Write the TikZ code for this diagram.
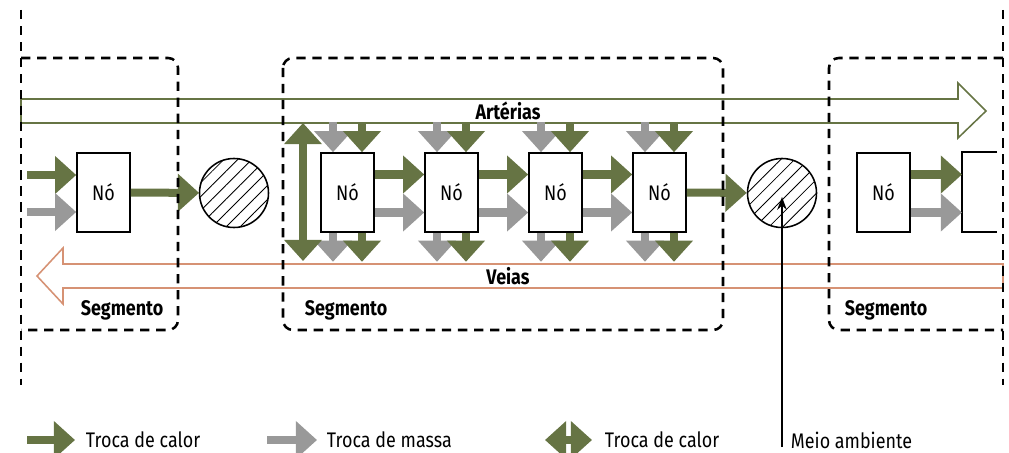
\documentclass[tikz,border=0pt]{standalone}
\usepackage{fontspec}
\setmainfont{Fira Sans}[FakeStretch=0.85]
\usepackage{tikz}
\usetikzlibrary{arrows.meta,calc,patterns.meta}
\definecolor{olive}{RGB}{102,116,68}
\definecolor{cinza}{RGB}{153,153,153}
\definecolor{salmao}{RGB}{214,146,116}

\begin{document}
\begin{tikzpicture}[x=0.025cm, y=-0.025cm, every node/.style = {font=\fontsize{15}{17}\selectfont},
    calor/.style = {olive, line width=2mm, -{Triangle[length=5.3mm,width=9.2mm]}},
    massa/.style = {cinza, line width=2mm, -{Triangle[length=5.3mm,width=9.2mm]}},
    duplo/.style = {olive, line width=2mm, {Triangle[length=5.3mm,width=9.2mm]}-{Triangle[length=5.3mm,width=9.2mm]}},
    no/.style = {draw, line width=1.1pt, fill=white, minimum width=1.325cm, minimum height=1.975cm, inner sep=0pt},
    amb/.style = {draw, circle, line width=1.1pt, minimum size=1.725cm, inner sep=0pt, pattern={Lines[angle=45,distance=7pt,line width=0.6pt]}},
    seg/.style = {draw, dash pattern=on 6.6pt off 4.8pt, line width=1.8pt, rounded corners=7pt},
    rotulo/.style = {font=\fontsize{15}{17}\selectfont\bfseries}]

    \useasboundingbox (0,0) rectangle (1009,453);

    % arterias e veias
    \draw[olive, line width=1.1pt, fill=white] (21,99) -- (958,99) -- (958,83) -- (986,111) -- (958,138) -- (958,123) -- (21,123) -- cycle;
    \node[rotulo] (art) at (508,111) {Artérias};
    \draw[salmao, line width=1.1pt, fill=white] (1003,264) -- (63,264) -- (63,248) -- (37,276) -- (63,304) -- (63,288) -- (1003,288) -- cycle;
    \node[rotulo] (vei) at (508,276) {Veias};

    % nos
    \node[no] (n1) at (103.5,192.5) {Nó};
    \node[no] (n2) at (347.5,192.5) {Nó};
    \node[no] (n3) at (451.5,192.5) {Nó};
    \node[no] (n4) at (555.5,192.5) {Nó};
    \node[no] (n5) at (659.5,192.5) {Nó};
    \node[no] (n6) at (883.5,192.5) {Nó};
    \node[amb] (c1) at (234,193) {};
    \node[amb] (c2) at (782,193) {};
    \draw[line width=1.1pt] (997,152) -- (962,152) -- (962,232) -- (997,232);
    \coordinate (corte) at (962,192.5);

    % trocas
    \coordinate (e1) at (27,175);
    \coordinate (e2) at (27,212);
    \draw[calor] (e1) -- (e1 -| n1.west);
    \draw[massa] (e2) -- (e2 -| n1.west);
    \draw[calor] (n1) -- (c1);
    \foreach \a/\b in {n2/n3,n3/n4,n4/n5,n6/corte} {
        \draw[calor] ($(\a.east)+(0,-18)$) -- ($(\b.west |- \a.east)+(0,-18)$);
        \draw[massa] ($(\a.east)+(0,20)$) -- ($(\b.west |- \a.east)+(0,20)$);
    }
    \draw[calor] (n5) -- (c2);
    \foreach \n in {n2,n3,n4,n5} {
        \draw[massa] ($(\n.north)+(-14.5,-30)$) -- ($(\n.north)+(-14.5,0)$);
        \draw[calor] ($(\n.north)+(14.5,-30)$) -- ($(\n.north)+(14.5,0)$);
        \draw[massa] ($(\n.south)+(-14.5,0)$) -- ($(\n.south)+(-14.5,29)$);
        \draw[calor] ($(\n.south)+(14.5,0)$) -- ($(\n.south)+(14.5,29)$);
    }
    \coordinate (dtopo) at (303,123);
    \coordinate (dbase) at (303,261);
    \draw[duplo] (dtopo) -- (dbase);

    % segmentos
    \draw[seg] (21,58) -- (178,58) -- (178,330) -- (21,330);
    \draw[seg] (283,58) rectangle (723,330);
    \draw[seg] (1003,58) -- (829,58) -- (829,330) -- (1003,330);
    \draw[dash pattern=on 6.6pt off 4.8pt, line width=1.8pt] (21,10) -- (21,385);
    \draw[dash pattern=on 6.6pt off 4.8pt, line width=1.8pt] (1003,10) -- (1003,385);
    \node[rotulo] (s1) at (122,310) {Segmento};
    \node[rotulo] (s2) at (346,310) {Segmento};
    \node[rotulo] (s3) at (886,310) {Segmento};

    % meio ambiente
    \coordinate (ma) at (782,447);
    \draw[line width=1.1pt, -{Stealth[length=3.2mm,width=2.4mm]}] (ma) -- ($(c2)+(0,4)$);

    % legenda
    \coordinate (l1a) at (27,440);
    \coordinate (l1b) at (75,440);
    \draw[calor] (l1a) -- (l1b);
    \node[anchor=west] (t1) at (81,440) {Troca de calor};
    \coordinate (l2a) at (267,440);
    \coordinate (l2b) at (317,440);
    \draw[massa] (l2a) -- (l2b);
    \node[anchor=west] (t2) at (322,440) {Troca de massa};
    \coordinate (l3a) at (545,440);
    \coordinate (l3b) at (592,440);
    \draw[duplo] (l3a) -- (l3b);
    \node[anchor=west] (t3) at (600,440) {Troca de calor};
    \node[anchor=west] (t4) at (786,440) {Meio ambiente};

\end{tikzpicture}
\end{document}
